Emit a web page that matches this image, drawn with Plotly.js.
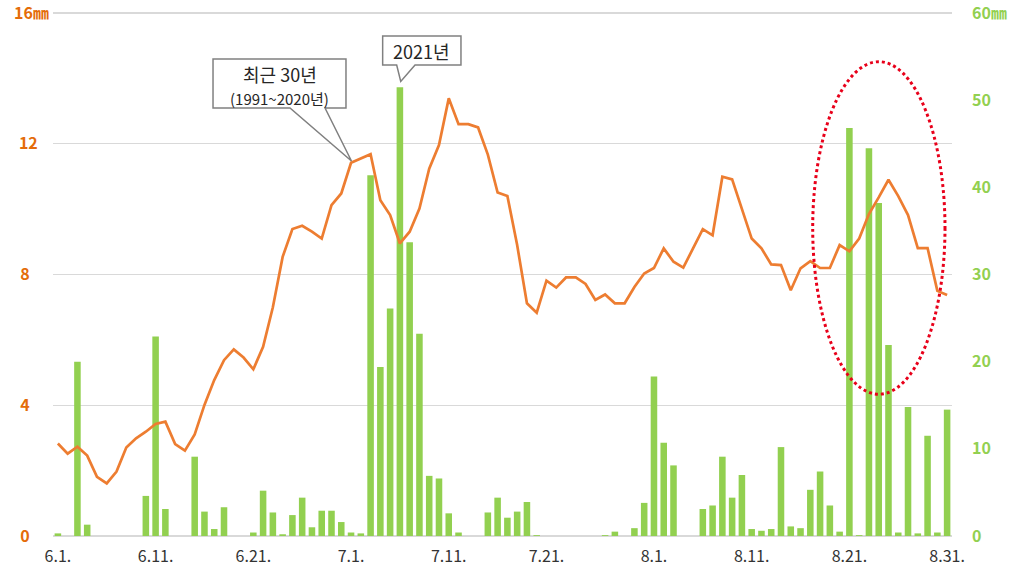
<!DOCTYPE html>
<html><head><meta charset="utf-8">
<script src="https://cdn.plot.ly/plotly-3.0.1.min.js"></script>
<style>html,body{margin:0;padding:0;background:#fff}</style>
</head><body><div id="chart" style="width:1015px;height:575px"></div>
<script>
// Categories: days from 6.1. to 8.31.
const dates = [
 '6.1.','6.2.','6.3.','6.4.','6.5.','6.6.','6.7.','6.8.','6.9.','6.10.',
 '6.11.','6.12.','6.13.','6.14.','6.15.','6.16.','6.17.','6.18.','6.19.','6.20.',
 '6.21.','6.22.','6.23.','6.24.','6.25.','6.26.','6.27.','6.28.','6.29.','6.30.',
 '7.1.','7.2.','7.3.','7.4.','7.5.','7.6.','7.7.','7.8.','7.9.','7.10.',
 '7.11.','7.12.','7.13.','7.14.','7.15.','7.16.','7.17.','7.18.','7.19.','7.20.',
 '7.21.','7.22.','7.23.','7.24.','7.25.','7.26.','7.27.','7.28.','7.29.','7.30.','7.31.',
 '8.1.','8.2.','8.3.','8.4.','8.5.','8.6.','8.7.','8.8.','8.9.','8.10.',
 '8.11.','8.12.','8.13.','8.14.','8.15.','8.16.','8.17.','8.18.','8.19.','8.20.',
 '8.21.','8.22.','8.23.','8.24.','8.25.','8.26.','8.27.','8.28.','8.29.','8.30.','8.31.'
];
// 2021 daily precipitation (mm, right axis)
const rain2021 = [
 0.3,0,20.0,1.3,0,0,0,0,0,4.6,
 22.9,3.1,0,0,9.1,2.8,0.8,3.3,0,0,
 0.4,5.2,2.7,0.2,2.4,4.4,1.0,2.9,2.9,1.6,
 0.4,0.3,41.4,19.4,26.1,51.5,33.7,23.2,6.9,6.6,
 2.6,0.4,0,0,2.7,4.4,2.1,2.8,3.9,0.1,
 0,0,0,0,0,0,0.1,0.5,0,0.9,
 3.8,18.3,10.7,8.1,0,0,3.1,3.5,9.1,4.4,
 7.0,0.8,0.6,0.8,10.2,1.1,0.9,5.3,7.4,3.5,
 0.5,46.8,0.1,44.5,38.2,21.9,0.4,14.8,0.3,11.5,
 0.4,14.5
];
// Recent 30-year (1991~2020) daily mean precipitation (mm, left axis)
const normal30 = [
 2.83,2.52,2.73,2.46,1.81,1.61,1.97,2.71,2.99,3.19,
 3.43,3.50,2.81,2.61,3.11,4.01,4.77,5.38,5.71,5.46,
 5.10,5.79,7.00,8.54,9.39,9.49,9.31,9.10,10.12,10.48,
 11.42,11.55,11.68,10.27,9.82,8.95,9.31,10.02,11.24,11.96,
 13.39,12.60,12.60,12.50,11.67,10.51,10.40,8.90,7.12,6.83,
 7.81,7.60,7.91,7.91,7.71,7.22,7.39,7.12,7.12,7.62,
 8.03,8.20,8.80,8.39,8.21,8.80,9.39,9.20,10.99,10.91,
 10.02,9.10,8.80,8.31,8.29,7.52,8.19,8.41,8.20,8.20,
 8.90,8.71,9.10,9.85,10.36,10.90,10.40,9.82,8.81,8.81,
 7.50,7.37
];
const xTickVals = ['6.1.','6.11.','6.21.','7.1.','7.11.','7.21.','8.1.','8.11.','8.21.','8.31.'];
const leftTickVals = [0,4,8,12,16];
const leftTickText = ['0','4','8','12','16㎜'];
const rightTickVals = [0,10,20,30,40,50,60];
const rightTickText = ['0','10','20','30','40','50','60㎜'];
const label30 = ['최근 30년','(1991~2020년)'];
const label2021 = '2021년';

// padding so that left labels look centered like the original
const padLeft = leftTickText.map(t => t.length === 1 ? t + '\u2003\u2009' : (t.length === 2 ? t + '\u2002\u2009' : t));

const FONT = 'Noto Sans CJK KR, Malgun Gothic, sans-serif';
const L = 53, R = 952, T = 12, B = 536;
const EPS = 1.002; // keep top ticks inside the axis range
const px = x => (x - L) / (R - L);
const py = y => (B - y) / (B - T);
const P = (x, y) => px(x).toFixed(4) + ',' + py(y).toFixed(4);
const pathOf = pts => 'M' + pts.map(p => P(p[0], p[1])).join('L') + 'Z';

const traces = [
  {type:'bar', x:dates, y:rain2021, yaxis:'y', marker:{color:'#92d050'}, hoverinfo:'x+y', name:'2021년'},
  {type:'scatter', mode:'lines', x:dates, y:normal30, yaxis:'y2', line:{color:'#ed7d31', width:2.7}, name:'최근 30년'}
];

const layout = {
  width:1015, height:575,
  margin:{l:L, r:1015-R, t:T, b:575-B, pad:0},
  paper_bgcolor:'#ffffff', plot_bgcolor:'rgba(0,0,0,0)',
  font:{family:FONT, color:'#404040'},
  showlegend:false,
  bargap:0.33,
  xaxis:{type:'category', range:[-0.5, 91.5], tickmode:'array', tickvals:xTickVals, ticktext:xTickVals,
    showgrid:false, showline:false, zeroline:false, ticks:'', ticklabelstandoff:9, ticklabeloverflow:'allow',
    tickfont:{size:16, color:'#333333', family:FONT}},
  yaxis:{side:'right', range:[0, 60*EPS], tickmode:'array', tickvals:rightTickVals, ticktext:rightTickText,
    showgrid:false, zeroline:false, showline:false, ticks:'', ticklabelstandoff:19, ticklabeloverflow:'allow',
    tickfont:{size:16, color:'#92d050', family:FONT, weight:'bold'}},
  yaxis2:{side:'left', overlaying:'y', range:[0, 16*EPS], tickmode:'array', tickvals:leftTickVals, ticktext:padLeft,
    showgrid:true, gridcolor:'#d9d9d9', gridwidth:1.3, zeroline:true, zerolinecolor:'#d9d9d9', zerolinewidth:1.3,
    showline:false, ticks:'', ticklabelstandoff:3, ticklabeloverflow:'allow',
    tickfont:{size:16, color:'#e46c0a', family:FONT, weight:'bold'}},
  shapes:[
    {type:'circle', xref:'paper', yref:'paper', x0:px(812.7), x1:px(945), y0:py(394.2), y1:py(61.7),
     line:{color:'#e8001a', width:3, dash:'dot'}, fillcolor:'rgba(0,0,0,0)', layer:'above'},
    {type:'path', xref:'paper', yref:'paper', layer:'above', fillcolor:'#ffffff', line:{color:'#808080', width:1.5},
     path:pathOf([[213,59],[346,59],[346,108],[325,108],[351.5,161],[290,108],[213,108]])},
    {type:'path', xref:'paper', yref:'paper', layer:'above', fillcolor:'#ffffff', line:{color:'#808080', width:1.5},
     path:pathOf([[382.7,36],[461,36],[461,65],[415,65],[400.7,81.5],[396.7,65],[382.7,65]])}
  ],
  annotations:[
    {xref:'paper', yref:'paper', x:px(279.5), y:py(74.5), showarrow:false, xanchor:'center', yanchor:'middle',
     text:label30[0], borderpad:0, font:{size:18, color:'#262626', family:FONT}},
    {xref:'paper', yref:'paper', x:px(279.5), y:py(98.5), showarrow:false, xanchor:'center', yanchor:'middle',
     text:label30[1], borderpad:0, font:{size:15, color:'#262626', family:FONT}},
    {xref:'paper', yref:'paper', x:px(421.8), y:py(50.5), text:label2021, showarrow:false, xanchor:'center', yanchor:'middle',
     borderpad:0, font:{size:18, color:'#262626', family:FONT}}
  ]
};

Plotly.newPlot('chart', traces, layout, {displayModeBar:false, staticPlot:true});
</script>
</body></html>
